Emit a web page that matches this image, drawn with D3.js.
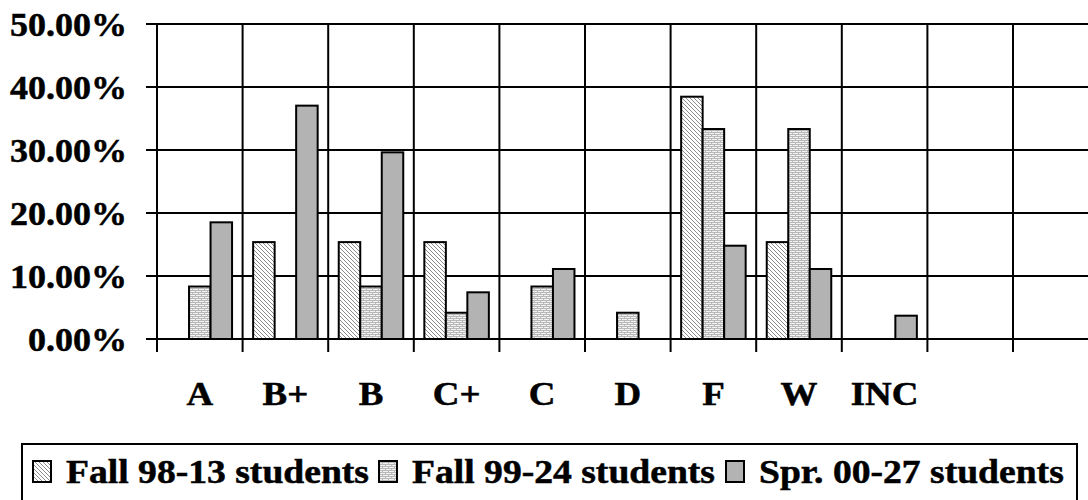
<!DOCTYPE html>
<html>
<head>
<meta charset="utf-8">
<script src="https://cdn.jsdelivr.net/npm/d3@7"></script>
<style>
  html, body { margin: 0; padding: 0; background: #fff; }
  svg { display: block; }
  text { font-family: "Liberation Serif", "Times New Roman", "DejaVu Serif", serif; font-weight: bold; fill: #000; stroke: #000; stroke-width: 0.5px; }
</style>
</head>
<body>
<svg id="chart" width="1088" height="500"></svg>
<script>
// Grade categories (the last two columns of the grid are left empty)
const categories = ["A", "B+", "B", "C+", "C", "D", "F", "W", "INC", "", " "];
const seriesNames = ["Fall 98-13 students", "Fall 99-24 students", "Spr. 00-27 students"];
// Share of students per grade, in percent
const fall98 = [0, 15.38, 15.38, 15.38, 0, 0, 38.46, 15.38, 0, 0, 0];
const fall99 = [8.33, 0, 8.33, 4.17, 8.33, 4.17, 33.33, 33.33, 0, 0, 0];
const spr00  = [18.52, 37.04, 29.63, 7.41, 11.11, 0, 14.81, 11.11, 3.70, 0, 0];
const yTicks = [0, 10, 20, 30, 40, 50];

const series = [fall98, fall99, spr00];
const fills = ["url(#hatch98)", "url(#brick99)", "#b3b3b3"];

const svg = d3.select("#chart");

// Fill patterns
const defs = svg.append("defs");
const hatch = defs.append("pattern").attr("id", "hatch98")
  .attr("patternUnits", "userSpaceOnUse").attr("width", 4).attr("height", 4);
hatch.append("rect").attr("width", 4).attr("height", 4).attr("fill", "#fff");
hatch.append("path").attr("d", "M0,0L4,4M-1,3L1,5M3,-1L5,1")
  .attr("stroke", "#8c8c8c").attr("stroke-width", 1);

const brick = defs.append("pattern").attr("id", "brick99")
  .attr("patternUnits", "userSpaceOnUse").attr("width", 6).attr("height", 4);
brick.append("rect").attr("width", 6).attr("height", 4).attr("fill", "#f2f2f2");
brick.append("path").attr("d", "M0,0.5H6M0,2.5H6M0.5,0.5V2.5M3.5,2.5V4.5")
  .attr("stroke", "#b8b8b8").attr("stroke-width", 1);

const plotLeft = 157, plotTop = 24, plotBottom = 339;
const bandW = 85.6;
const x = d3.scaleBand().domain(categories)
  .range([plotLeft, plotLeft + bandW * categories.length]).padding(0);
const xs = d3.scaleBand().domain(d3.range(3))
  .range([0, x.bandwidth()]).paddingInner(0).paddingOuter(0.49);
const y = d3.scaleLinear().domain([0, 50]).range([plotBottom, plotTop]);

// Text drawn slightly wider than the font's natural width
function stretched(parent, tx, ty, sx, size, anchor, str) {
  parent.append("g").attr("transform", `translate(${tx},${ty}) scale(${sx},1)`)
    .append("text").attr("font-size", size).attr("text-anchor", anchor).text(str);
}

// Horizontal gridlines
svg.append("g").selectAll("line").data(yTicks).join("line")
  .attr("x1", plotLeft - 11).attr("x2", x.range()[1])
  .attr("y1", d => y(d)).attr("y2", d => y(d))
  .attr("stroke", "#000").attr("stroke-width", 2);

// Vertical gridlines with tick marks below the axis
const xEdges = categories.map(c => x(c));
svg.append("g").selectAll("line").data(xEdges).join("line")
  .attr("x1", d => d).attr("x2", d => d)
  .attr("y1", plotTop).attr("y2", plotBottom + 13)
  .attr("stroke", "#000").attr("stroke-width", 2);

// Y tick labels
const yLab = svg.append("g");
yTicks.forEach(t => stretched(yLab, 127, y(t) + 12, 1.06, 34, "end", t.toFixed(2) + "%"));

// Bars
series.forEach((vals, si) => {
  svg.append("g").selectAll("rect")
    .data(vals.map((v, i) => ({ c: categories[i], v })).filter(d => d.v > 0))
    .join("rect")
    .attr("x", d => x(d.c) + xs(si))
    .attr("width", xs.bandwidth())
    .attr("y", d => y(d.v))
    .attr("height", d => y(0) - y(d.v))
    .attr("fill", fills[si])
    .attr("stroke", "#000").attr("stroke-width", 2);
});

// Category labels
const xLab = svg.append("g");
categories.filter(c => c.trim() !== "").forEach(c =>
  stretched(xLab, x(c) + x.bandwidth() / 2, 405, 1.12, 33, "middle", c));

// Legend
svg.append("rect").attr("x", 22).attr("y", 444).attr("width", 1055).attr("height", 70)
  .attr("fill", "#fff").attr("stroke", "#000").attr("stroke-width", 2);
const legendX = [33, 379, 726];
seriesNames.forEach((name, i) => {
  const g = svg.append("g").attr("transform", `translate(${legendX[i]},0)`);
  g.append("rect").attr("x", 0).attr("y", 461).attr("width", 18).attr("height", 21)
    .attr("fill", fills[i]).attr("stroke", "#000").attr("stroke-width", 2);
  stretched(g, 33, 483, 1.14, 33, "start", name);
});
</script>
</body>
</html>
